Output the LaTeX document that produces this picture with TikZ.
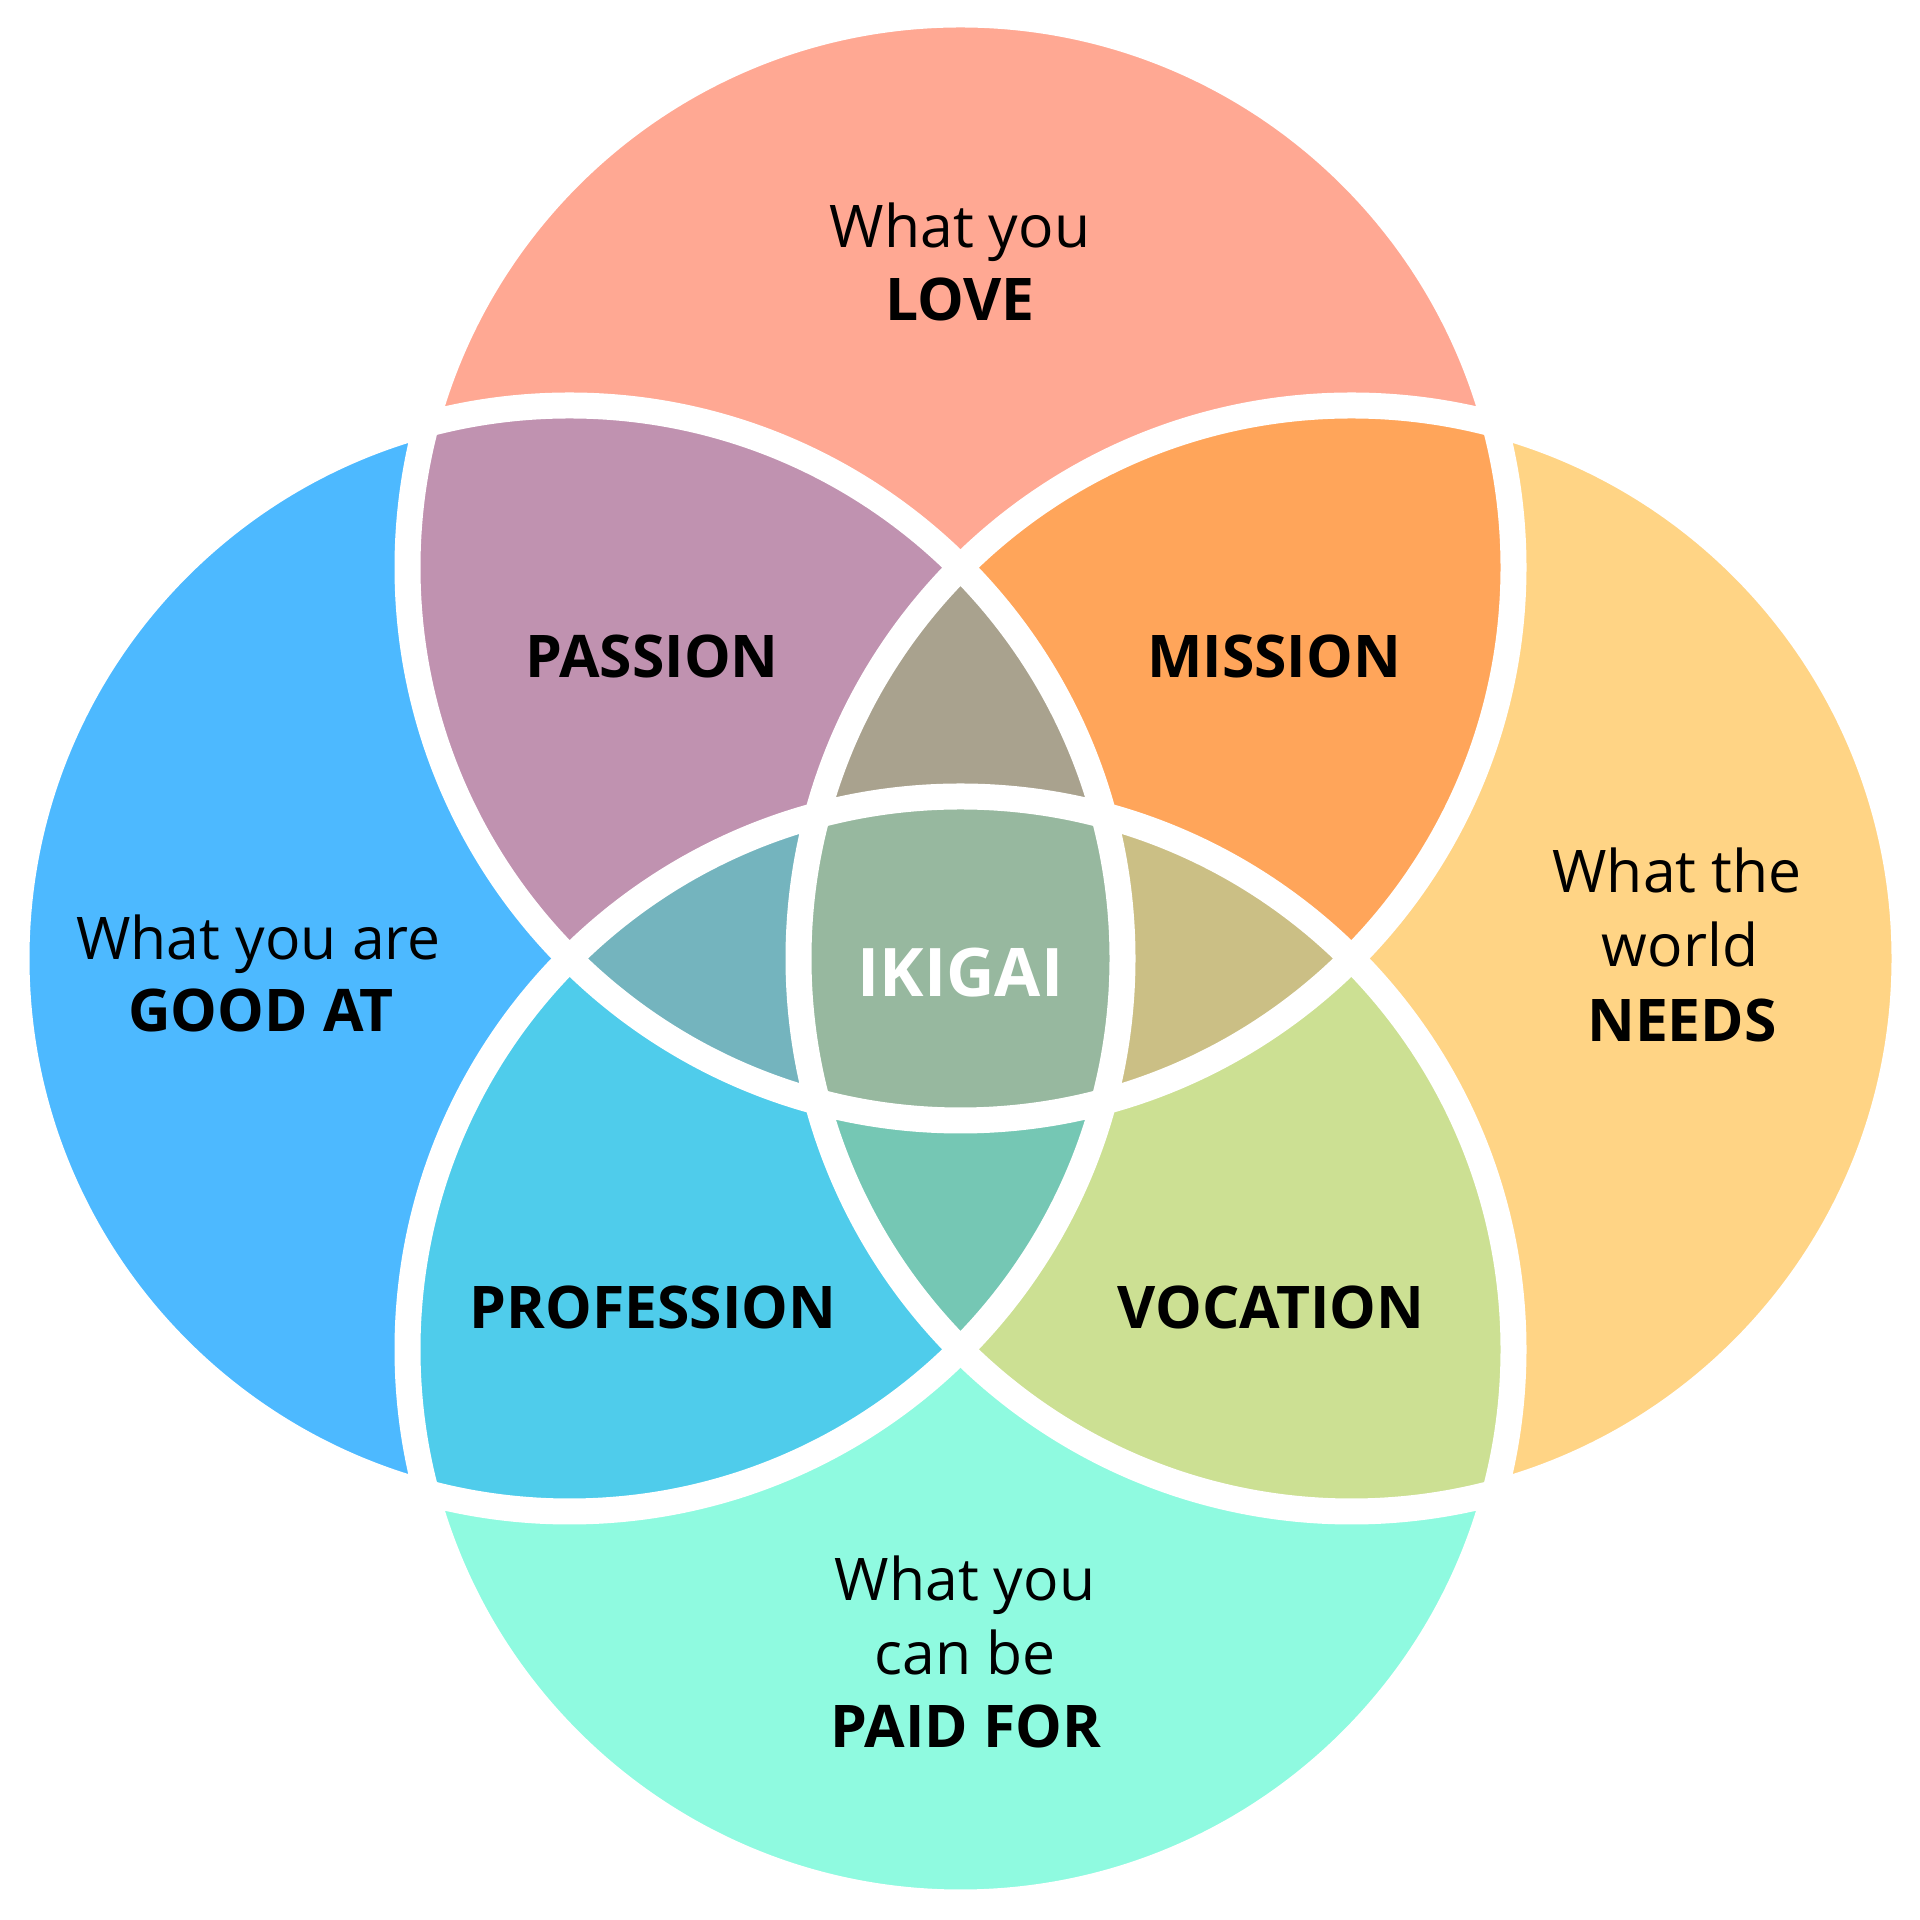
\documentclass[tikz,border=0pt]{standalone}
\usepackage{fontspec}
\setmainfont{Open Sans}
\definecolor{cLove}{HTML}{FFA893}
\definecolor{cGood}{HTML}{4DB9FF}
\definecolor{cNeed}{HTML}{FFD485}
\definecolor{cPaid}{HTML}{8FFAE0}
\definecolor{cPassion}{HTML}{C092B0}
\definecolor{cMission}{HTML}{FFA55A}
\definecolor{cProfession}{HTML}{4FCCEB}
\definecolor{cVocation}{HTML}{CCE093}
\definecolor{cTriTop}{HTML}{A9A28E}
\definecolor{cTriLeft}{HTML}{74B4BE}
\definecolor{cTriRight}{HTML}{CBBF85}
\definecolor{cTriBottom}{HTML}{75C7B4}
\definecolor{cIkigai}{HTML}{97B89F}
\tikzset{
  reg/.style={font=\fontsize{58.8}{70}\selectfont, anchor=base, inner sep=0pt, text=black},
  bld/.style={font=\fontsize{58.8}{70}\selectfont\bfseries, anchor=base, inner sep=0pt, text=black},
  ring/.style={draw=white, line width=26pt}
}
\begin{document}
\begin{tikzpicture}[x=1pt,y=1pt]
\useasboundingbox (0,0) rectangle (1920,1920);
\fill[white] (0,0) rectangle (1920,1920);
\def\cT{(960.5,1352.5) circle[radius=553]}
\def\cL{(569.5,961.5) circle[radius=553]}
\def\cR{(1351.5,961.5) circle[radius=553]}
\def\cB{(960.5,570.5) circle[radius=553]}
% single sets
\fill[cLove] \cT;
\fill[cGood] \cL;
\fill[cNeed] \cR;
\fill[cPaid] \cB;
% pairs
\begin{scope}\clip \cT; \fill[cPassion] \cL; \end{scope}
\begin{scope}\clip \cT; \fill[cMission] \cR; \end{scope}
\begin{scope}\clip \cB; \fill[cProfession] \cL; \end{scope}
\begin{scope}\clip \cB; \fill[cVocation] \cR; \end{scope}
% triples
\begin{scope}\clip \cT; \clip \cL; \fill[cTriTop] \cR; \end{scope}
\begin{scope}\clip \cT; \clip \cL; \fill[cTriLeft] \cB; \end{scope}
\begin{scope}\clip \cT; \clip \cR; \fill[cTriRight] \cB; \end{scope}
\begin{scope}\clip \cB; \clip \cL; \fill[cTriBottom] \cR; \end{scope}
% all four
\begin{scope}\clip \cT; \clip \cL; \clip \cR; \fill[cIkigai] \cB; \end{scope}
% white outlines
\draw[ring] \cT;
\draw[ring] \cL;
\draw[ring] \cR;
\draw[ring] \cB;
% texts
\node[reg] (love1) at (960,1672) {What you};
\node[bld] (love2) at (960,1599) {LOVE};
\node[reg] (good1) at (258.5,960) {What you are};
\node[bld] (good2) at (261,888) {GOOD AT};
\node[reg] (need1) at (1677,1027) {What the};
\node[reg] (need2) at (1680,953) {world};
\node[bld] (need3) at (1682,878) {NEEDS};
\node[reg] (paid1) at (965,319) {What you};
\node[reg] (paid2) at (965,245) {can be};
\node[bld] (paid3) at (966,172) {PAID FOR};
\node[bld] (passion) at (652,1242) {PASSION};
\node[bld] (mission) at (1274,1242) {MISSION};
\node[bld] (profession) at (653,591) {PROFESSION};
\node[bld] (vocation) at (1271,591) {VOCATION};
\node[bld, text=white, font=\fontsize{67}{80}\selectfont\bfseries] (ikigai) at (960.5,923) {IKIGAI};
\end{tikzpicture}
\end{document}
